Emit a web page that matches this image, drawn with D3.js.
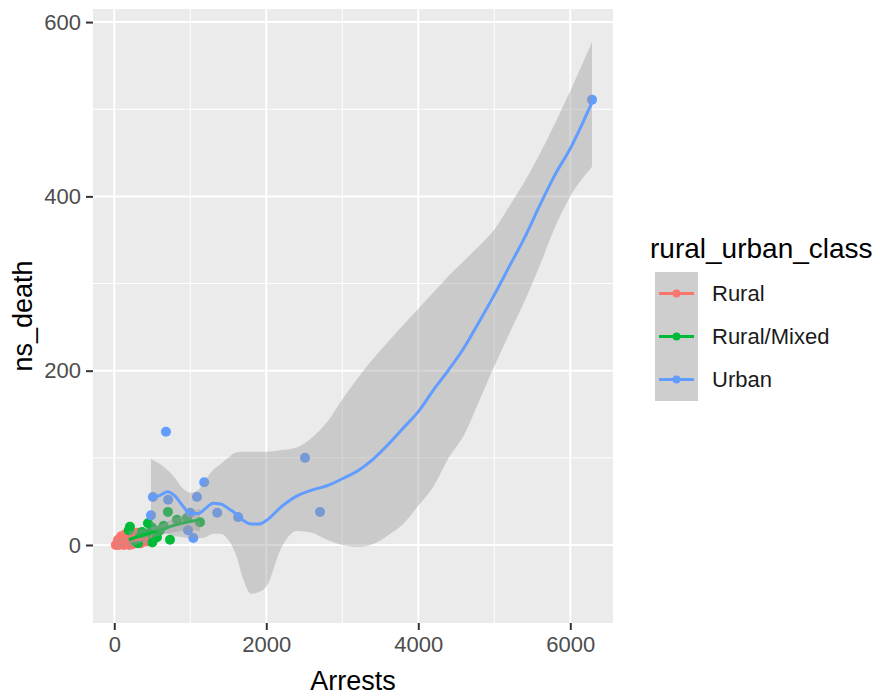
<!DOCTYPE html>
<html>
<head>
<meta charset="utf-8">
<script src="https://cdn.jsdelivr.net/npm/d3@7"></script>
<style>
  body { margin: 0; background: #fff; }
  svg { display: block; font-family: "Liberation Sans", Arial, sans-serif; }
</style>
</head>
<body>
<div id="chart"></div>
<script>
// values
const classes = ['Rural', 'Rural/Mixed', 'Urban'];
const classColors = ['#F8766D', '#00BA38', '#619CFF'];
const xTicks = [0, 2000, 4000, 6000];
const xMinor = [1000, 3000, 5000];
const yTicks = [0, 200, 400, 600];
const yMinor = [100, 300, 500];

const ruralPoints = [
  [20, 0], [40, 2], [60, 0], [80, 4], [100, 1], [110, 6], [130, 0], [150, 3], [160, 8],
  [180, 2], [200, 5], [220, 12], [240, 1], [260, 7], [280, 3], [300, 14], [320, 5],
  [350, 2], [380, 9], [420, 4], [450, 11], [90, 10], [140, 12], [200, 0], [50, 6]
];
const mixedPoints = [
  [206, 21], [443, 25], [496, 20], [562, 9], [338, 9], [365, 15], [601, 17], [312, 2],
  [706, 38], [733, 6], [825, 29], [957, 31], [1128, 26], [190, 17], [420, 13], [650, 22],
  [280, 4], [500, 3]
];
const urbanPoints = [
  [680, 130], [6286, 511], [2509, 100], [2707, 38], [1183, 72], [1088, 55], [508, 55],
  [708, 52], [483, 34], [1354, 37], [1630, 32], [970, 17], [1040, 8], [1000, 37]
];

// loess fits with confidence band
const ruralSmoothX = [20, 100, 200, 300, 400, 450];
const ruralFit = [1, 3, 5, 6, 7, 8];
const ruralLo = [-4, -1, 2, 3, 2, 1];
const ruralHi = [6, 7, 8, 9, 12, 15];

const mixedSmoothX = [190, 400, 600, 800, 1000, 1128];
const mixedFit = [6, 12, 17, 23, 27, 29];
const mixedLo = [-4, 5, 11, 15, 17, 16];
const mixedHi = [16, 19, 23, 31, 37, 42];

const urbanSmoothX = [483, 600, 700, 800, 900, 1000, 1100, 1200, 1300, 1400, 1500, 1600,
  1700, 1800, 1900, 2000, 2200, 2400, 2600, 2800, 3000, 3200, 3400, 3600, 3800, 4000,
  4200, 4400, 4600, 4800, 5000, 5200, 5400, 5600, 5800, 6000, 6286];
const urbanFit = [54, 57, 61, 56, 45, 36, 36, 42, 48, 47, 42, 36, 28, 24, 24, 28, 44, 56,
  63, 68, 76, 85, 98, 115, 134, 153, 178, 201, 226, 256, 287, 320, 353, 390, 425, 455, 508];
const urbanLo = [17, 15, 13, 10, 9, 8, 8, 9, 13, 13, 6, -11, -40, -56, -54, -48, -3, 16,
  14, 6, 0, -2, 1, 11, 24, 45, 67, 100, 126, 165, 205, 243, 280, 321, 365, 400, 434];
const urbanHi = [99, 93, 86, 77, 65, 60, 63, 75, 86, 93, 100, 106, 107, 107, 107, 107, 109,
  112, 123, 141, 167, 191, 213, 233, 252, 271, 290, 309, 326, 343, 362, 389, 417, 449,
  484, 521, 577];

const W = 880, H = 697;
const panel = { left: 93, right: 613, top: 9, bottom: 623 };

const svg = d3.select('#chart').append('svg')
  .attr('width', W)
  .attr('height', H);

const x = d3.scaleLinear().domain([-280, 6562]).range([panel.left, panel.right]);
const y = d3.scaleLinear().domain([-89.5, 615]).range([panel.bottom, panel.top]);

svg.append('clipPath').attr('id', 'panel-clip')
  .append('rect')
  .attr('x', panel.left).attr('y', panel.top)
  .attr('width', panel.right - panel.left).attr('height', panel.bottom - panel.top);

// panel background + grid
svg.append('rect')
  .attr('x', panel.left).attr('y', panel.top)
  .attr('width', panel.right - panel.left).attr('height', panel.bottom - panel.top)
  .attr('fill', '#EBEBEB');

const grid = svg.append('g');
grid.selectAll('.xminor').data(xMinor).enter().append('line')
  .attr('x1', d => x(d)).attr('x2', d => x(d))
  .attr('y1', panel.top).attr('y2', panel.bottom)
  .attr('stroke', '#fff').attr('stroke-width', 1);
grid.selectAll('.yminor').data(yMinor).enter().append('line')
  .attr('y1', d => y(d)).attr('y2', d => y(d))
  .attr('x1', panel.left).attr('x2', panel.right)
  .attr('stroke', '#fff').attr('stroke-width', 1);
grid.selectAll('.xmajor').data(xTicks).enter().append('line')
  .attr('x1', d => x(d)).attr('x2', d => x(d))
  .attr('y1', panel.top).attr('y2', panel.bottom)
  .attr('stroke', '#fff').attr('stroke-width', 2);
grid.selectAll('.ymajor').data(yTicks).enter().append('line')
  .attr('y1', d => y(d)).attr('y2', d => y(d))
  .attr('x1', panel.left).attr('x2', panel.right)
  .attr('stroke', '#fff').attr('stroke-width', 2);

const plot = svg.append('g').attr('clip-path', 'url(#panel-clip)');

// points layer
const pointSets = [ruralPoints, mixedPoints, urbanPoints];
pointSets.forEach((pts, i) => {
  plot.selectAll(`.pt-${i}`)
    .data(pts)
    .enter()
    .append('circle')
    .attr('cx', d => x(d[0]))
    .attr('cy', d => y(d[1]))
    .attr('r', 5)
    .attr('fill', classColors[i]);
});

// smooth layer
const smooths = [
  { xs: ruralSmoothX, fit: ruralFit, lo: ruralLo, hi: ruralHi },
  { xs: mixedSmoothX, fit: mixedFit, lo: mixedLo, hi: mixedHi },
  { xs: urbanSmoothX, fit: urbanFit, lo: urbanLo, hi: urbanHi }
];

smooths.forEach((s, i) => {
  const rows = s.xs.map((v, j) => ({ x: v, fit: s.fit[j], lo: s.lo[j], hi: s.hi[j] }));

  const band = d3.area()
    .x(d => x(d.x))
    .y0(d => y(d.lo))
    .y1(d => y(d.hi))
    .curve(d3.curveMonotoneX);

  const line = d3.line()
    .x(d => x(d.x))
    .y(d => y(d.fit))
    .curve(d3.curveMonotoneX);

  plot.append('path')
    .datum(rows)
    .attr('d', band)
    .attr('fill', '#999999')
    .attr('fill-opacity', 0.4);

  plot.append('path')
    .datum(rows)
    .attr('d', line)
    .attr('fill', 'none')
    .attr('stroke', classColors[i])
    .attr('stroke-width', 3);
});

// axes
const xAxis = svg.append('g')
  .attr('transform', `translate(0,${panel.bottom})`)
  .call(d3.axisBottom(x).tickValues(xTicks).tickSize(7).tickPadding(6).tickFormat(d3.format('d')));
const yAxis = svg.append('g')
  .attr('transform', `translate(${panel.left},0)`)
  .call(d3.axisLeft(y).tickValues(yTicks).tickSize(7).tickPadding(5).tickFormat(d3.format('d')));

[xAxis, yAxis].forEach(ax => {
  ax.select('.domain').remove();
  ax.selectAll('.tick line').attr('stroke', '#333').attr('stroke-width', 2);
  ax.selectAll('.tick text')
    .attr('fill', '#4D4D4D')
    .style('font-size', '22px')
    .style('font-family', '"Liberation Sans", Arial, sans-serif');
});

svg.append('text')
  .attr('x', (panel.left + panel.right) / 2)
  .attr('y', 690)
  .attr('text-anchor', 'middle')
  .style('font-size', '27px')
  .attr('fill', '#000')
  .text('Arrests');

svg.append('text')
  .attr('transform', `translate(32,${(panel.top + panel.bottom) / 2}) rotate(-90)`)
  .attr('text-anchor', 'middle')
  .style('font-size', '27px')
  .attr('fill', '#000')
  .text('ns_death');

// legend
const legend = svg.append('g').attr('transform', 'translate(650,0)');
legend.append('text')
  .attr('x', 0)
  .attr('y', 258)
  .style('font-size', '28px')
  .attr('fill', '#000')
  .text('rural_urban_class');

classes.forEach((c, i) => {
  const row = legend.append('g').attr('transform', `translate(5, ${272 + i * 43})`);
  row.append('rect')
    .attr('width', 43).attr('height', 43)
    .attr('fill', '#F2F2F2');
  row.append('rect')
    .attr('width', 43).attr('height', 43)
    .attr('fill', '#999999').attr('fill-opacity', 0.4);
  row.append('line')
    .attr('x1', 4).attr('x2', 39)
    .attr('y1', 21.5).attr('y2', 21.5)
    .attr('stroke', classColors[i]).attr('stroke-width', 3);
  row.append('circle')
    .attr('cx', 21.5).attr('cy', 21.5).attr('r', 4)
    .attr('fill', classColors[i]);
  row.append('text')
    .attr('x', 57)
    .attr('y', 21.5)
    .attr('dy', '0.35em')
    .style('font-size', '22px')
    .attr('fill', '#1A1A1A')
    .text(c);
});
</script>
</body>
</html>
